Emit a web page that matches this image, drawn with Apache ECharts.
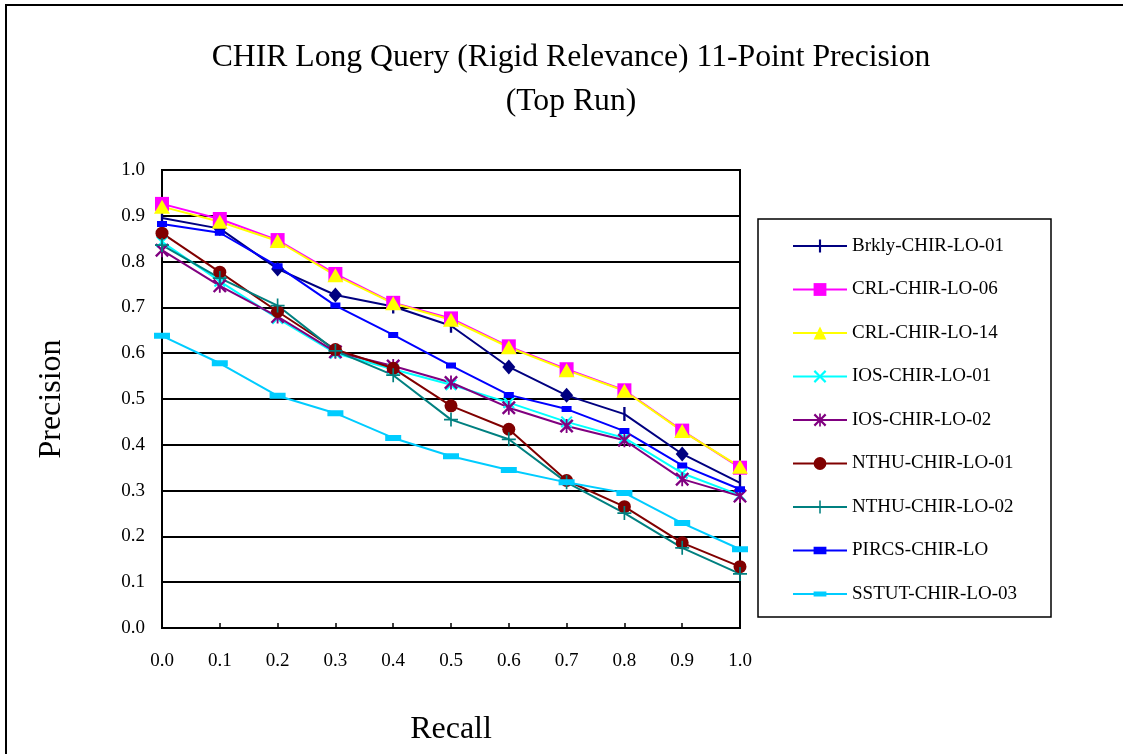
<!DOCTYPE html>
<html><head><meta charset="utf-8">
<script src="https://cdn.jsdelivr.net/npm/echarts@6/dist/echarts.min.js"></script>
<style>html,body{margin:0;padding:0;background:#fff}#c{width:1123px;height:754px}</style>
</head><body><div id="c"></div>
<script>
const recall = [0.0,0.1,0.2,0.3,0.4,0.5,0.6,0.7,0.8,0.9,1.0];
const yTicks = [0.0,0.1,0.2,0.3,0.4,0.5,0.6,0.7,0.8,0.9,1.0];
const brkly  = [0.895,0.872,0.784,0.727,0.702,0.660,0.570,0.508,0.467,0.380,0.317];
const brklyMarks = ['tick','diamond','diamond','diamond','tick','tick','diamond','diamond','tick','diamond','tick'];
const crl06  = [0.926,0.893,0.847,0.773,0.710,0.676,0.615,0.565,0.519,0.431,0.350];
const crl14  = [0.920,0.887,0.845,0.770,0.709,0.673,0.613,0.563,0.518,0.430,0.352];
const ios01  = [0.843,0.757,0.676,0.600,0.565,0.531,0.492,0.450,0.415,0.338,0.290];
const ios02  = [0.825,0.747,0.680,0.603,0.572,0.536,0.481,0.441,0.410,0.325,0.288];
const nthu01 = [0.862,0.777,0.691,0.608,0.567,0.485,0.434,0.322,0.265,0.186,0.134];
const nthu02 = [0.836,0.764,0.704,0.605,0.552,0.455,0.412,0.318,0.251,0.175,0.118];
const pircs  = [0.882,0.863,0.790,0.704,0.640,0.573,0.509,0.478,0.430,0.355,0.303];
const sstut  = [0.638,0.578,0.507,0.469,0.415,0.375,0.345,0.318,0.295,0.229,0.172];
const names = ['Brkly-CHIR-LO-01','CRL-CHIR-LO-06','CRL-CHIR-LO-14','IOS-CHIR-LO-01','IOS-CHIR-LO-02','NTHU-CHIR-LO-01','NTHU-CHIR-LO-02','PIRCS-CHIR-LO','SSTUT-CHIR-LO-03'];

const FONT = '"Liberation Serif","Times New Roman",serif';
const X_PATH = 'path://M0,1.2 L1.2,0 L5,3.8 L8.8,0 L10,1.2 L6.2,5 L10,8.8 L8.8,10 L5,6.2 L1.2,10 L0,8.8 L3.8,5 Z';
const AST_PATH = 'path://M0,1.2 L1.2,0 L5,3.8 L8.8,0 L10,1.2 L6.2,5 L10,8.8 L8.8,10 L5,6.2 L1.2,10 L0,8.8 L3.8,5 Z M4.35,0 L5.65,0 L5.65,10 L4.35,10 Z';
const PLUS_PATH = 'path://M4.4,0 L5.6,0 L5.6,4.4 L10,4.4 L10,5.6 L5.6,5.6 L5.6,10 L4.4,10 L4.4,5.6 L0,5.6 L0,4.4 L4.4,4.4 Z';
// square-bounded paths so the legend (which draws square symbols) keeps the shape
const TICK_PATH = 'path://M0,0 Z M12,12 Z M5,0 L7,0 L7,12 L5,12 Z';
const SMALL_RECT = 'path://M0,0 Z M10,10 Z M0,2 L10,2 L10,8 L0,8 Z';
const WIDE_RECT = 'path://M0,0 Z M16,16 Z M0,5 L16,5 L16,11 L0,11 Z';

function pts(arr){ return arr.map((v,i)=>[recall[i],v]); }
function mk(name,color,data,symbol,size,extra){
  return Object.assign({
    name:name, type:'line', data:data, symbol:symbol, symbolSize:size,
    symbolKeepAspect:true, showAllSymbol:true,
    lineStyle:{color:color,width:2}, itemStyle:{color:color},
    emphasis:{disabled:true}, animation:false, z:2
  },extra||{});
}
const brklyData = brkly.map((v,i)=> brklyMarks[i]==='diamond'
  ? {value:[recall[i],v], symbol:'diamond', symbolSize:[13,15]}
  : {value:[recall[i],v]});

const series = [
  mk(names[0],'#000080',brklyData,TICK_PATH,14),
  mk(names[1],'#ff00ff',pts(crl06),'rect',14),
  mk(names[2],'#ffff00',pts(crl14),'triangle',[16,14]),
  mk(names[3],'#00ffff',pts(ios01),X_PATH,12),
  mk(names[4],'#800080',pts(ios02),AST_PATH,14),
  mk(names[5],'#800000',pts(nthu01),'circle',13),
  mk(names[6],'#008080',pts(nthu02),PLUS_PATH,14),
  mk(names[7],'#0000ff',pts(pircs),SMALL_RECT,10),
  mk(names[8],'#00ccff',pts(sstut),WIDE_RECT,16)
];

const chart = echarts.init(document.getElementById('c'),null,{renderer:'canvas'});
chart.setOption({
  backgroundColor:'#fff',
  animation:false,
  textStyle:{fontFamily:FONT},
  title:{
    text:'CHIR Long Query (Rigid Relevance) 11-Point Precision\n(Top Run)',
    left:566, textAlign:'center', top:31,
    textStyle:{fontFamily:FONT,fontSize:31.7,fontWeight:'normal',color:'#000',lineHeight:44}
  },
  legend:{
    orient:'vertical', left:758, top:219,
    padding:[17.5,20,15,34],
    itemWidth:54, itemHeight:16, itemGap:24.5,
    data:names,
    textStyle:{fontFamily:FONT,fontSize:19,color:'#000',padding:[0,0,0,0]},
    selectedMode:false
  },
  grid:{left:162,right:383,top:170,bottom:126,show:true,borderColor:'#000',borderWidth:2,backgroundColor:'transparent'},
  xAxis:{
    type:'value', min:0, max:1, interval:0.1,
    name:'Recall', nameLocation:'middle', nameGap:86,
    nameTextStyle:{fontFamily:FONT,fontSize:32,color:'#000'},
    axisLine:{lineStyle:{color:'#000',width:2}},
    axisTick:{inside:true,length:5,lineStyle:{color:'#000',width:1.5}},
    axisLabel:{margin:24,fontFamily:FONT,fontSize:19,color:'#000',formatter:v=>v.toFixed(1)},
    splitLine:{show:false}
  },
  yAxis:{
    type:'value', min:0, max:1, interval:0.1,
    name:'Precision', nameLocation:'middle', nameGap:94, nameRotate:90,
    nameTextStyle:{fontFamily:FONT,fontSize:32,color:'#000'},
    axisLine:{show:true,lineStyle:{color:'#000',width:2}},
    axisTick:{show:false},
    axisLabel:{margin:17,fontFamily:FONT,fontSize:19,color:'#000',formatter:v=>yTicks.includes(Math.round(v*10)/10)?v.toFixed(1):''},
    splitLine:{show:true,lineStyle:{color:'#000',width:2}}
  },
  graphic:[
    {type:'rect',shape:{x:6,y:5,width:1200,height:900},style:{fill:null,stroke:'#000',lineWidth:2},z:-1,silent:true},
    {type:'rect',shape:{x:758,y:219,width:293,height:398},style:{fill:null,stroke:'#000',lineWidth:1.5},z:-1,silent:true}
  ],
  series:series
});
</script></body></html>
